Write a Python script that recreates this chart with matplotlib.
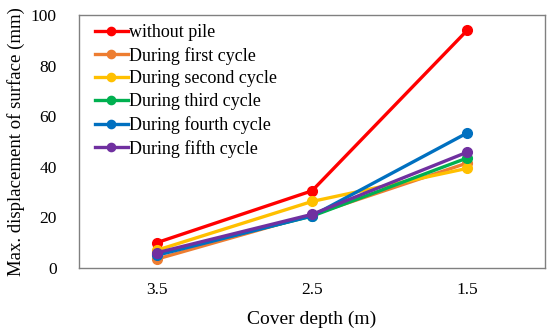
import matplotlib
matplotlib.use('Agg')
import matplotlib.pyplot as plt
import numpy as np

plt.rcParams['font.family'] = ['Liberation Serif', 'DejaVu Serif']

depths = ['3.5', '2.5', '1.5']
without_pile = [10.0, 30.5, 94.0]
first_cycle = [3.5, 21.0, 41.5]
second_cycle = [7.0, 26.3, 39.4]
third_cycle = [5.5, 20.5, 43.5]
fourth_cycle = [5.0, 20.6, 53.4]
fifth_cycle = [6.0, 21.2, 45.8]

series = [
    ('without pile', without_pile, '#FF0000'),
    ('During first cycle', first_cycle, '#ED7D31'),
    ('During second cycle', second_cycle, '#FFC000'),
    ('During third cycle', third_cycle, '#00B050'),
    ('During fourth cycle', fourth_cycle, '#0070C0'),
    ('During fifth cycle', fifth_cycle, '#7030A0'),
]

fig = plt.figure(figsize=(5.5, 3.31), dpi=100)
ax = fig.add_axes([79/550, 1 - 268/331, 466/550, 253/331])

x = np.arange(len(depths))
for name, vals, col in series:
    ax.plot(x, vals, color=col, lw=2.4, marker='o', ms=7, label=name)

ax.set_xlim(-0.5, 2.5)
ax.set_ylim(0, 100)
ax.set_xticks(x)
ax.set_xticklabels(depths)
ax.set_yticks(np.arange(0, 101, 20))
ax.tick_params(length=0, labelsize=12.5, pad=10)
ax.tick_params(axis='y', pad=16)
for s in ax.spines.values():
    s.set_color('#808080')
    s.set_linewidth(1)

ax.set_xlabel('Cover depth (m)', fontsize=14, labelpad=9)
ax.set_ylabel('Max. displacement of surface (mm)', fontsize=13.5, labelpad=4)

ax.legend(loc='upper left', bbox_to_anchor=(0.015, 1), frameon=False,
          fontsize=13, handlelength=1.8, handletextpad=0.1,
          labelspacing=0.32, borderaxespad=0.3, markerscale=0.85,
          borderpad=0.2)

fig.savefig('out.png', dpi=100)
